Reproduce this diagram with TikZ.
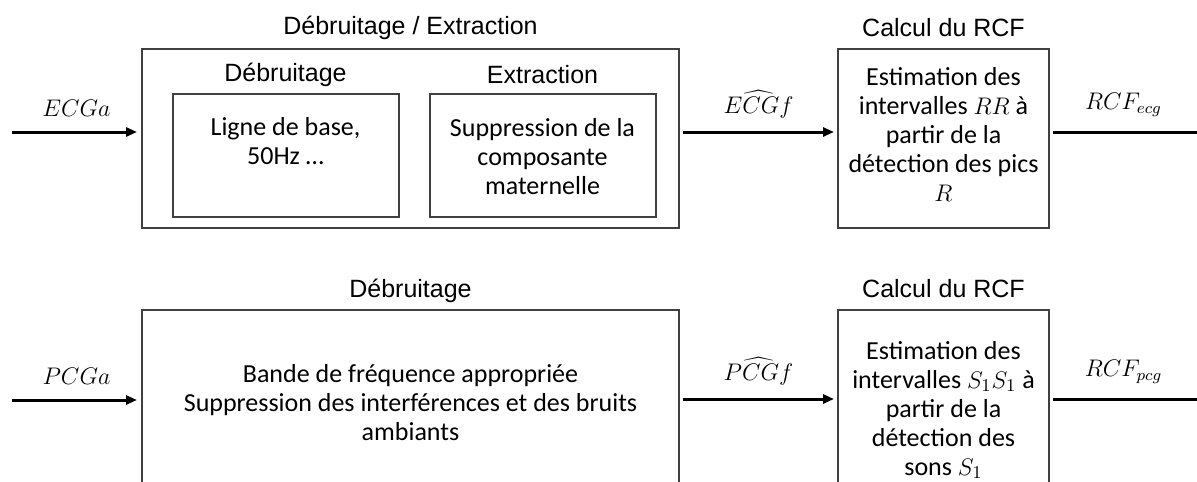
\documentclass[tikz,border=0pt]{standalone}
\usepackage{fontspec}
\setmainfont{Carlito}
\newfontfamily\arialfont{Liberation Sans}
\usetikzlibrary{arrows.meta,positioning}

\tikzset{
  bloc/.style={draw=black!75, line width=1pt, inner sep=0pt}, % cadres
  texte/.style={align=center, font=\fontsize{13}{14.5}\selectfont},
  titre/.style={font=\arialfont\fontsize{12.5}{14}\selectfont},
  signal/.style={font=\fontsize{12}{14}\selectfont, inner sep=0pt},
  fleche/.style={line width=1.5pt, -{Triangle[length=5.5pt,width=4.5pt]}},
  ligne/.style={line width=1.5pt}
}

\begin{document}
\begin{tikzpicture}[x=0.5pt,y=-0.5pt]
\useasboundingbox (0,0) rectangle (1197,481);
\clip (0,0) rectangle (1197,481);

% chaine ECG
\node[bloc, minimum width=268.5pt, minimum height=89.5pt] (debext) at (410.5,138.5) {};
\node[titre] (tdebext) at (410.5,28) {Débruitage / Extraction};
\node[bloc, minimum width=113pt, minimum height=61.5pt] (deb) at (285.5,155.5) {};
\node[titre] (tdeb) at (285.5,75) {Débruitage};
\node[texte] (xdeb) at (285.5,141) {Ligne de base,\\50Hz …};
\node[bloc, minimum width=113pt, minimum height=61.5pt] (ext) at (542.5,155.5) {};
\node[titre] (text) at (542.5,75) {Extraction};
\node[texte] (xext) at (542.5,157) {Suppression de la\\composante\\maternelle};
\node[bloc, minimum width=105.5pt, minimum height=89.5pt] (rcf1) at (943.5,138.5) {};
\node[titre] (trcf1) at (943.5,28) {Calcul du RCF};
\node[texte] (xrcf1) at (943.5,134.5) {Estimation des\\intervalles $RR$ à\\partir de la\\détection des pics\\$R$};

\coordinate (in1) at (12,132);
\coordinate (out1) at (1197,132);
\draw[fleche, shorten >=2pt] (in1) -- (in1 -| debext.west)
  node[signal, midway, above=7pt] (lin1) {$ECGa$};
\draw[fleche, shorten <=1.5pt, shorten >=1.5pt] (debext.east |- in1) -- (rcf1.west |- in1)
  node[signal, midway, above=6pt] (lmid1) {$\widehat{ECGf}$};
\draw[ligne, shorten <=1.5pt] (rcf1.east |- out1) -- (out1)
  node[signal, midway, above=7pt] (lout1) {$RCF_{ecg}$};

% chaine PCG
\node[bloc, minimum width=268.5pt, minimum height=220pt] (deb2) at (410.5,530) {};
\node[titre] (tdeb2) at (410.5,291) {Débruitage};
\node[texte] (xdeb2) at (410.5,402.5) {Bande de fréquence appropriée\\Suppression des interférences et des bruits\\ambiants};
\node[bloc, minimum width=105.5pt, minimum height=220pt] (rcf2) at (943.5,530) {};
\node[titre] (trcf2) at (943.5,289) {Calcul du RCF};
\node[texte] (xrcf2) at (943.5,410) {Estimation des\\intervalles $S_1S_1$ à\\partir de la\\détection des\\sons $S_1$};

\coordinate (in2) at (12,400);
\coordinate (out2) at (1197,399);
\draw[fleche, shorten >=2pt] (in2) -- (in2 -| deb2.west)
  node[signal, midway, above=7pt] (lin2) {$PCGa$};
\draw[fleche, shorten <=1.5pt, shorten >=1.5pt] (deb2.east |- out2) -- (rcf2.west |- out2)
  node[signal, midway, above=6pt] (lmid2) {$\widehat{PCGf}$};
\draw[ligne, shorten <=1.5pt] (rcf2.east |- out2) -- (out2)
  node[signal, midway, above=7pt] (lout2) {$RCF_{pcg}$};
\end{tikzpicture}
\end{document}
